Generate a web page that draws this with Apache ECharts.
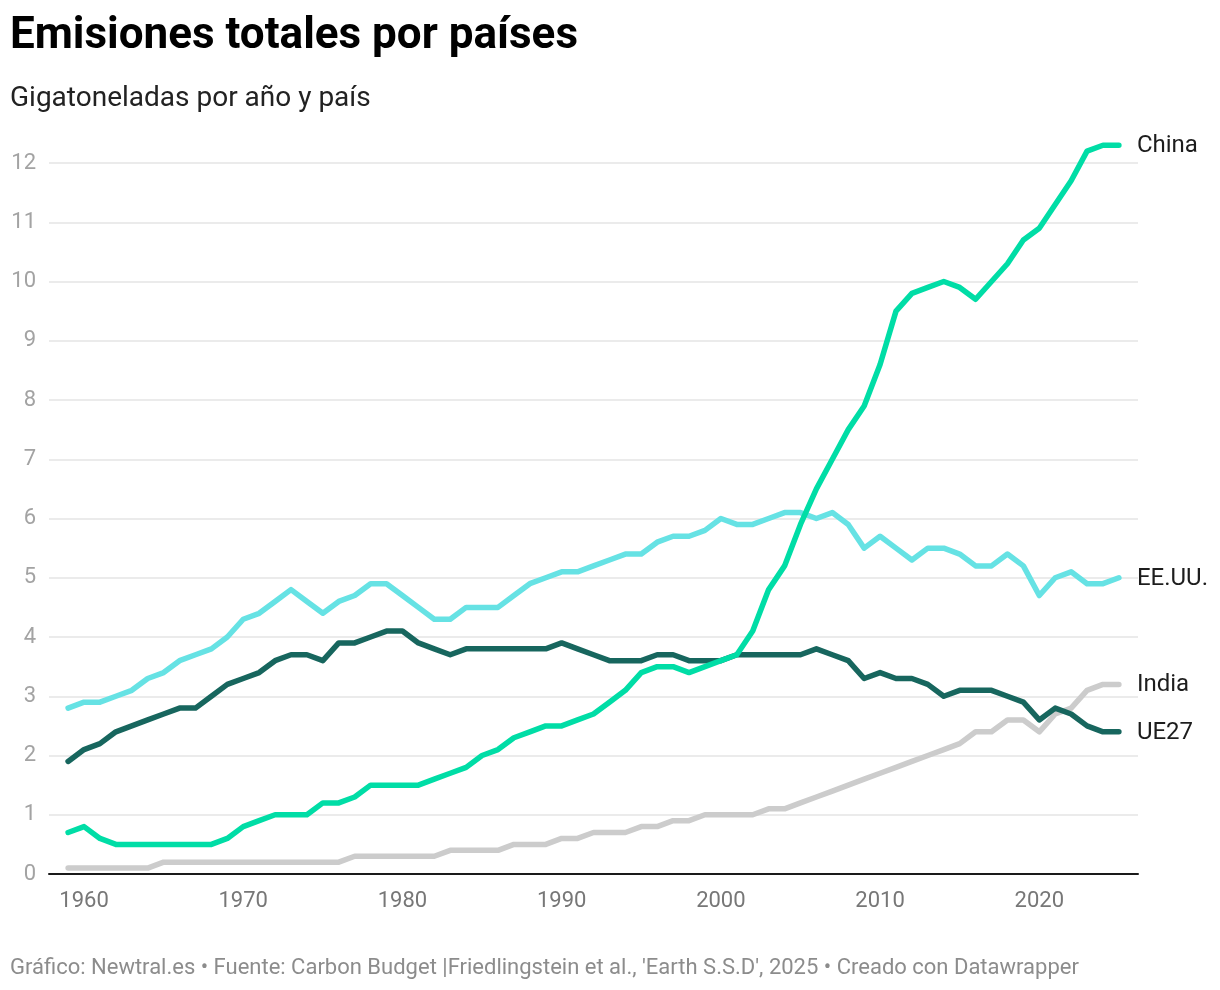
<!DOCTYPE html>
<html>
<head>
<meta charset="utf-8">
<script src="https://cdn.jsdelivr.net/npm/echarts@6/dist/echarts.min.js"></script>
<style>
  html, body { margin: 0; padding: 0; background: #fff; }
  #chart { width: 1220px; height: 990px; }
</style>
</head>
<body>
<div id="chart"></div>
<script>
const years = [
  1959,1960,1961,1962,1963,1964,1965,1966,1967,1968,
  1969,1970,1971,1972,1973,1974,1975,1976,1977,1978,
  1979,1980,1981,1982,1983,1984,1985,1986,1987,1988,
  1989,1990,1991,1992,1993,1994,1995,1996,1997,1998,
  1999,2000,2001,2002,2003,2004,2005,2006,2007,2008,
  2009,2010,2011,2012,2013,2014,2015,2016,2017,2018,
  2019,2020,2021,2022,2023,2024,2025
];
const china = [
  0.7,0.8,0.6,0.5,0.5,0.5,0.5,0.5,0.5,0.5,
  0.6,0.8,0.9,1.0,1.0,1.0,1.2,1.2,1.3,1.5,
  1.5,1.5,1.5,1.6,1.7,1.8,2.0,2.1,2.3,2.4,
  2.5,2.5,2.6,2.7,2.9,3.1,3.4,3.5,3.5,3.4,
  3.5,3.6,3.7,4.1,4.8,5.2,5.9,6.5,7.0,7.5,
  7.9,8.6,9.5,9.8,9.9,10.0,9.9,9.7,10.0,10.3,
  10.7,10.9,11.3,11.7,12.2,12.3,12.3
];
const eeuu = [
  2.8,2.9,2.9,3.0,3.1,3.3,3.4,3.6,3.7,3.8,
  4.0,4.3,4.4,4.6,4.8,4.6,4.4,4.6,4.7,4.9,
  4.9,4.7,4.5,4.3,4.3,4.5,4.5,4.5,4.7,4.9,
  5.0,5.1,5.1,5.2,5.3,5.4,5.4,5.6,5.7,5.7,
  5.8,6.0,5.9,5.9,6.0,6.1,6.1,6.0,6.1,5.9,
  5.5,5.7,5.5,5.3,5.5,5.5,5.4,5.2,5.2,5.4,
  5.2,4.7,5.0,5.1,4.9,4.9,5.0
];
const ue27 = [
  1.9,2.1,2.2,2.4,2.5,2.6,2.7,2.8,2.8,3.0,
  3.2,3.3,3.4,3.6,3.7,3.7,3.6,3.9,3.9,4.0,
  4.1,4.1,3.9,3.8,3.7,3.8,3.8,3.8,3.8,3.8,
  3.8,3.9,3.8,3.7,3.6,3.6,3.6,3.7,3.7,3.6,
  3.6,3.6,3.7,3.7,3.7,3.7,3.7,3.8,3.7,3.6,
  3.3,3.4,3.3,3.3,3.2,3.0,3.1,3.1,3.1,3.0,
  2.9,2.6,2.8,2.7,2.5,2.4,2.4
];
const india = [
  0.1,0.1,0.1,0.1,0.1,0.1,0.2,0.2,0.2,0.2,
  0.2,0.2,0.2,0.2,0.2,0.2,0.2,0.2,0.3,0.3,
  0.3,0.3,0.3,0.3,0.4,0.4,0.4,0.4,0.5,0.5,
  0.5,0.6,0.6,0.7,0.7,0.7,0.8,0.8,0.9,0.9,
  1.0,1.0,1.0,1.0,1.1,1.1,1.2,1.3,1.4,1.5,
  1.6,1.7,1.8,1.9,2.0,2.1,2.2,2.4,2.4,2.6,
  2.6,2.4,2.7,2.8,3.1,3.2,3.2
];
const xTickLabels = [1960,1970,1980,1990,2000,2010,2020];
const seriesNames = ['India','EE.UU.','UE27','China'];
const seriesColors = ['#cccccc','#66e2e4','#17665e','#00dda6'];

const FONT = 'Roboto, "Noto Sans", sans-serif';
const dataMap = { 'India': india, 'EE.UU.': eeuu, 'UE27': ue27, 'China': china };

const chart = echarts.init(document.getElementById('chart'), null, { renderer: 'canvas' });

const series = seriesNames.map((name, i) => ({
  name: name,
  type: 'line',
  data: years.map((y, k) => [y, dataMap[name][k]]),
  showSymbol: false,
  symbol: 'none',
  clip: false,
  lineStyle: { width: 5.5, color: seriesColors[i], cap: 'round', join: 'round' },
  itemStyle: { color: seriesColors[i] },
  emphasis: { disabled: true },
  endLabel: {
    show: true,
    formatter: '{a}',
    distance: 18,
    fontSize: 24,
    color: '#1d1d1d',
    fontFamily: FONT,
    offset: [0, 1]
  },
  z: 2 + i
}));

chart.setOption({
  animation: false,
  backgroundColor: '#ffffff',
  textStyle: { fontFamily: FONT },
  title: [
    {
      text: 'Emisiones totales por países',
      left: 10, top: 15, padding: 0,
      textStyle: { fontSize: 44, fontWeight: 'bold', color: '#000', fontFamily: FONT }
    },
    {
      text: 'Gigatoneladas por año y país',
      left: 10, top: 85, padding: 0,
      textStyle: { fontSize: 28, fontWeight: 'normal', color: '#222', fontFamily: FONT }
    },
    {
      text: "Gráfico: Newtral.es • Fuente: Carbon Budget |Friedlingstein et al., 'Earth S.S.D', 2025 • Creado con Datawrapper",
      left: 10, top: 957, padding: 0,
      textStyle: { fontSize: 22, fontWeight: 'normal', color: '#8c8c8c', fontFamily: FONT }
    }
  ],
  grid: { left: 49, right: 82, top: 163, bottom: 116, containLabel: false },
  xAxis: {
    type: 'value',
    min: 1957.8,
    max: 2026.2,
    splitLine: { show: false },
    axisTick: { show: false },
    axisLine: { show: true, lineStyle: { color: '#1a1a1a', width: 2 } },
    axisLabel: {
      customValues: xTickLabels,
      formatter: v => String(v),
      color: '#777',
      fontSize: 22,
      margin: 16,
      fontFamily: FONT
    }
  },
  yAxis: {
    type: 'value',
    min: 0,
    max: 12,
    interval: 1,
    axisLine: { show: false },
    axisTick: { show: false },
    splitLine: { show: true, lineStyle: { color: '#e5e5e5', width: 1.5 } },
    axisLabel: { color: '#a3a3a3', fontSize: 22, margin: 13, fontFamily: FONT }
  },
  series: series
});
</script>
</body>
</html>
